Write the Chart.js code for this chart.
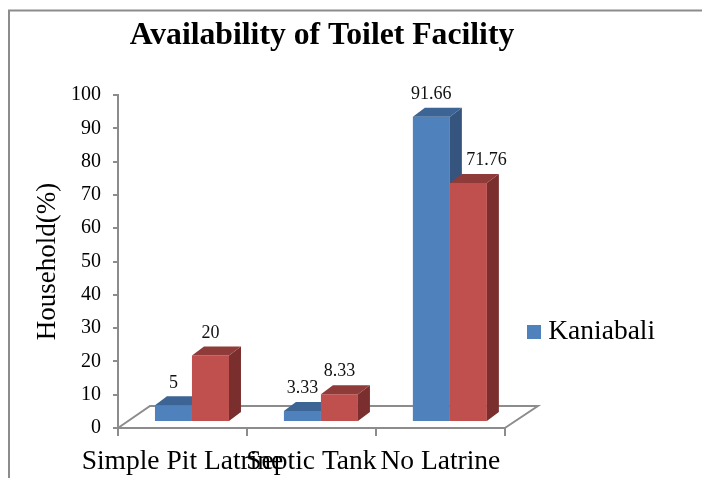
<!DOCTYPE html>
<html>
<head>
<meta charset="utf-8">
<style>
    html, body { margin: 0; padding: 0; background: #fff; }
    #wrap { width: 702px; height: 478px; position: relative; }
</style>
<script src="https://cdn.jsdelivr.net/npm/chart.js@4/dist/chart.umd.min.js"></script>
</head>
<body>
<div id="wrap"><canvas id="grafico"></canvas></div>
<script>
// Dati
const categorie = ["Simple Pit Latrine", "Septic Tank", "No Latrine"];
const valoriKaniabali = [5, 3.33, 91.66];
const valoriSecondaSerie = [20, 8.33, 71.76];
const etichettaSerie = "Kaniabali";
const titolo = "Availability of Toilet Facility";
const titoloAsseY = "Household(%)";

const GRIGIO = "#8c8c8c";
const FONT = "'Liberation Serif', serif";
const PROF_X = 12, PROF_Y = 9;   // profondita' delle barre 3D
const SPOST_X = 9.5, SPOST_Y = -6; // barre sollevate sul pavimento

function faccia(ctx, colore, punti) {
    ctx.fillStyle = colore;
    ctx.beginPath();
    punti.forEach((p, i) => i ? ctx.lineTo(p[0], p[1]) : ctx.moveTo(p[0], p[1]));
    ctx.closePath();
    ctx.fill();
}

// Barre di Chart.js spostate sul pavimento, con le facce laterali sopra
function disegnaBarre(chart, indice, colori) {
    const ctx = chart.ctx;
    const meta = chart.getDatasetMeta(indice);
    ctx.save();
    ctx.translate(SPOST_X, SPOST_Y);
    meta.controller.draw();
    meta.data.forEach(b => {
        const sx = b.x - b.width / 2, dx = b.x + b.width / 2;
        faccia(ctx, colori.lato, [[dx, b.y], [dx + PROF_X, b.y - PROF_Y], [dx + PROF_X, b.base - PROF_Y], [dx, b.base]]);
        faccia(ctx, colori.top, [[sx, b.y], [sx + PROF_X, b.y - PROF_Y], [dx + PROF_X, b.y - PROF_Y], [dx, b.y]]);
    });
    ctx.restore();
}

// Cornice, pavimento 3D e posizioni di titolo e legenda
const cornice3d = {
    id: "cornice3d",
    afterLayout(chart) {
        chart.titleBlock.left = 0;
        chart.titleBlock.right = 644;
        chart.legend.left = 526;
        chart.legend.right = 702;
        chart.legend.top = 316;
        chart.legend.bottom = 348;
    },
    beforeDraw(chart) {
        const ctx = chart.ctx;
        ctx.save();
        ctx.strokeStyle = GRIGIO;
        ctx.lineWidth = 2;
        ctx.beginPath();
        ctx.moveTo(9, 478);
        ctx.lineTo(9, 10.5);
        ctx.lineTo(702, 10.5);
        ctx.stroke();
        ctx.restore();
    },
    beforeDatasetsDraw(chart) {
        const { ctx, chartArea: a } = chart;
        ctx.save();
        ctx.strokeStyle = GRIGIO;
        ctx.lineWidth = 2;
        ctx.beginPath();
        ctx.moveTo(a.left, a.bottom);
        ctx.lineTo(a.left + 32, a.bottom - 22);
        ctx.lineTo(a.right + 33, a.bottom - 22);
        ctx.lineTo(a.right, a.bottom);
        ctx.stroke();
        ctx.restore();
        // Chart.js disegna le serie al contrario: qui il rosso deve stare sopra il blu
        disegnaBarre(chart, 0, { top: "#3c6494", lato: "#35557f" });
        disegnaBarre(chart, 1, { top: "#8f3b39", lato: "#7a2f2e" });
    },
    beforeDatasetDraw() {
        return false;
    },
    afterDatasetsDraw(chart) {
        const ctx = chart.ctx;
        ctx.save();
        ctx.fillStyle = "#111";
        ctx.font = "18px " + FONT;
        ctx.textAlign = "center";
        ctx.textBaseline = "middle";
        chart.data.datasets.forEach((ds, i) => {
            chart.getDatasetMeta(i).data.forEach((b, j) => {
                // l'etichetta 71.76 nell'originale e' spostata a destra
                const extra = (i === 1 && j === 2) ? 18 : 0;
                ctx.fillText(String(ds.data[j]), b.x + SPOST_X + extra, b.y + SPOST_Y - PROF_Y - 13.5);
            });
        });
        ctx.restore();
    }
};

new Chart(document.getElementById("grafico"), {
    type: "bar",
    data: {
        labels: categorie,
        datasets: [
            { label: etichettaSerie, data: valoriKaniabali, backgroundColor: "#4f81bd" },
            { label: "", data: valoriSecondaSerie, backgroundColor: "#c0504d" }
        ]
    },
    options: {
        responsive: true,
        maintainAspectRatio: false,
        animation: false,
        categoryPercentage: 0.574,
        barPercentage: 1,
        layout: { padding: { left: 27, right: 58, top: 0, bottom: -9 } },
        plugins: {
            tooltip: { enabled: false },
            title: {
                display: true,
                text: titolo,
                color: "#000",
                font: { family: FONT, size: 31.7, weight: "bold" },
                padding: { top: 17, bottom: 40 }
            },
            legend: {
                position: "right",
                labels: {
                    filter: item => item.datasetIndex === 0,
                    color: "#000",
                    usePointStyle: true,
                    pointStyle: "rect",
                    boxWidth: 1,
                    boxHeight: 14,
                    padding: 7.5,
                    font: { family: FONT, size: 27.5 }
                }
            }
        },
        scales: {
            x: {
                grid: { drawOnChartArea: false, color: GRIGIO, lineWidth: 2, tickLength: 8 },
                border: { color: GRIGIO, width: 2 },
                ticks: { color: "#000", autoSkip: false, maxRotation: 0, minRotation: 0, font: { family: FONT, size: 27.5 }, padding: 9 }
            },
            y: {
                min: 0,
                max: 100,
                afterFit: scala => { scala.width = 91; },
                grid: { drawOnChartArea: false, color: GRIGIO, lineWidth: 2, tickLength: 5 },
                border: { color: GRIGIO, width: 2 },
                ticks: { color: "#000", stepSize: 10, font: { family: FONT, size: 20 }, padding: 12 },
                title: { display: true, text: titoloAsseY, color: "#000", font: { family: FONT, size: 27 }, padding: 5 }
            }
        }
    },
    plugins: [cornice3d]
});
</script>
</body>
</html>
